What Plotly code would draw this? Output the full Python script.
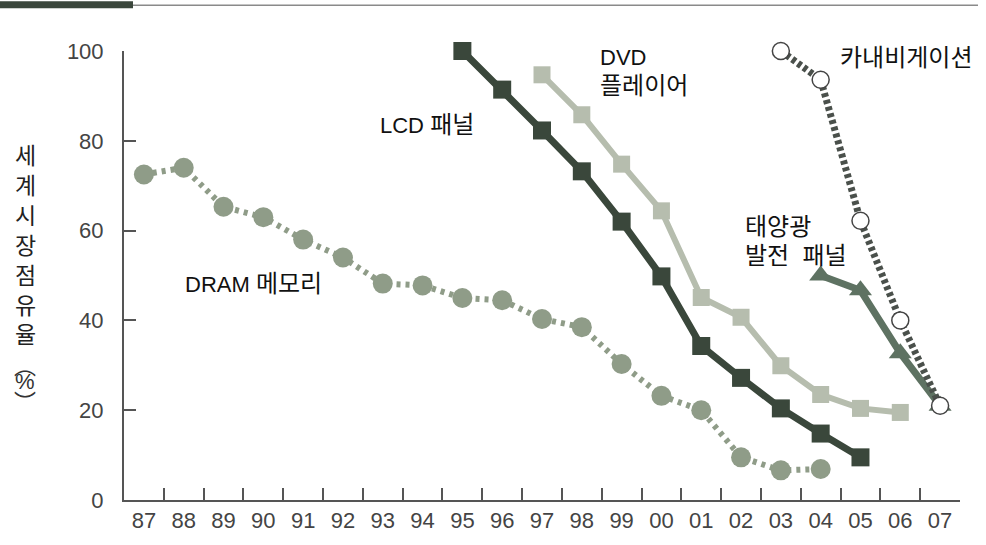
import plotly.graph_objects as go

years = ["87", "88", "89", "90", "91", "92", "93", "94", "95", "96", "97",
         "98", "99", "00", "01", "02", "03", "04", "05", "06", "07"]

dram_years = ["87", "88", "89", "90", "91", "92", "93", "94", "95", "96", "97",
              "98", "99", "00", "01", "02", "03", "04"]
dram_vals = [72.5, 74, 65.3, 63, 58, 54, 48.2, 47.8, 45, 44.5, 40.3,
             38.5, 30.3, 23.2, 20, 9.5, 6.6, 6.9]

lcd_years = ["95", "96", "97", "98", "99", "00", "01", "02", "03", "04", "05"]
lcd_vals = [100, 91.4, 82.3, 73.2, 62, 49.8, 34.3, 27.2, 20.4, 14.8, 9.5]

dvd_years = ["97", "98", "99", "00", "01", "02", "03", "04", "05", "06"]
dvd_vals = [94.7, 85.8, 74.8, 64.4, 45.1, 40.7, 29.9, 23.5, 20.4, 19.5]

nav_years = ["03", "04", "05", "06", "07"]
nav_vals = [100, 93.6, 62.2, 40, 21]

solar_years = ["04", "05", "06", "07"]
solar_vals = [50, 46.7, 32.7, 21]

LATIN = "Liberation Sans"
KR = "Liberation Sans, Noto Sans CJK KR"


def kr(s):
    return '<span style="font-size:24px">' + s + '</span>'


fig = go.Figure()

fig.add_trace(go.Scatter(
    x=dram_years, y=dram_vals, mode="lines+markers",
    line=dict(color="#8f9c88", width=6, dash="4px,5px"),
    marker=dict(symbol="circle", size=20, color="#8f9c88", line=dict(width=0)),
    cliponaxis=False, showlegend=False))

fig.add_trace(go.Scatter(
    x=dvd_years, y=dvd_vals, mode="lines+markers",
    line=dict(color="#b6bdae", width=6),
    marker=dict(symbol="square", size=17, color="#b6bdae", line=dict(width=0)),
    cliponaxis=False, showlegend=False))

fig.add_trace(go.Scatter(
    x=lcd_years, y=lcd_vals, mode="lines+markers",
    line=dict(color="#3a473b", width=7),
    marker=dict(symbol="square", size=18, color="#3a473b", line=dict(width=0)),
    cliponaxis=False, showlegend=False))

fig.add_trace(go.Scatter(
    x=solar_years, y=solar_vals, mode="lines+markers",
    line=dict(color="#5e7262", width=7),
    marker=dict(symbol="triangle-up", size=20, color="#5e7262", line=dict(width=0)),
    cliponaxis=False, showlegend=False))

fig.add_trace(go.Scatter(
    x=nav_years, y=nav_vals, mode="lines+markers",
    line=dict(color="#4a504b", width=7, dash="4px,3px"),
    marker=dict(symbol="circle", size=17, color="white",
                line=dict(width=1.5, color="#444")),
    cliponaxis=False, showlegend=False))

annots = [
    dict(x=5.88, y=83.6, text="LCD " + kr("패널"), xanchor="left", yanchor="middle"),
    dict(x=11.41, y=95.4, text="DVD<br>" + kr("플레이어"), xanchor="left", yanchor="middle", align="left"),
    dict(x=17.44, y=98.5, text=kr("카내비게이션"), xanchor="left", yanchor="middle"),
    dict(x=15.05, y=57.7, text=kr("태양광") + "<br>" + kr("발전  패널"), xanchor="left", yanchor="middle", align="left"),
    dict(x=0.98, y=48.2, text="DRAM " + kr("메모리"), xanchor="left", yanchor="middle"),
]
for a in annots:
    fig.add_annotation(xref="x", yref="y", showarrow=False,
                       font=dict(family=KR, size=22, color="#111"), **a)

# vertical y-axis title
TX = -0.118
fig.add_annotation(xref="paper", yref="paper", x=TX, y=(503 - 245) / 452,
                   text="세<br>계<br>시<br>장<br>점<br>유<br>율",
                   showarrow=False, xanchor="center", yanchor="middle",
                   font=dict(family="Noto Sans CJK KR", size=23, color="#222"))
fig.add_annotation(xref="paper", yref="paper", x=TX, y=(503 - 384) / 452,
                   text="%", showarrow=False, xanchor="center", yanchor="middle",
                   font=dict(family=LATIN, size=22, color="#333"))
fig.add_annotation(xref="paper", yref="paper", x=TX, y=(503 - 366) / 452,
                   text="︵", showarrow=False, xanchor="center", yanchor="middle",
                   font=dict(family="Noto Sans CJK KR", size=22, color="#333"))
fig.add_annotation(xref="paper", yref="paper", x=TX, y=(503 - 402) / 452,
                   text="︶", showarrow=False, xanchor="center", yanchor="middle",
                   font=dict(family="Noto Sans CJK KR", size=22, color="#333"))

# header rule
fig.add_shape(type="line", xref="paper", yref="paper",
              x0=(133 - 124) / 836, x1=(978 - 124) / 836,
              y0=(503 - 5) / 452, y1=(503 - 5) / 452,
              line=dict(color="#8a8a8a", width=1.5))
fig.add_shape(type="rect", xref="paper", yref="paper",
              x0=-124 / 836, x1=(133 - 124) / 836,
              y0=(503 - 8) / 452, y1=(503 - 1) / 452,
              line=dict(width=0), fillcolor="#3b473c")

fig.update_layout(
    width=986, height=545,
    margin=dict(l=124, r=26, t=51, b=42),
    paper_bgcolor="white", plot_bgcolor="white",
    xaxis=dict(type="category", categoryorder="array", categoryarray=years,
               tickvals=years, ticktext=years,
               range=[-0.5, 20.5], tickson="boundaries",
               showline=True, linecolor="#555", linewidth=2,
               ticks="inside", ticklen=12, tickwidth=1.5, tickcolor="#555",
               showgrid=False, zeroline=False,
               tickfont=dict(family=LATIN, size=22, color="#444")),
    yaxis=dict(range=[0, 100], dtick=20, tick0=0,
               showline=True, linecolor="#555", linewidth=2,
               ticks="inside", ticklen=12, tickwidth=1.5, tickcolor="#555",
               showgrid=False, zeroline=False, ticklabelstandoff=14,
               tickfont=dict(family=LATIN, size=22, color="#444")),
)

fig.write_html("out.html", config={"displayModeBar": False},
               post_script="document.body.style.margin='0';document.body.style.overflow='hidden';")
